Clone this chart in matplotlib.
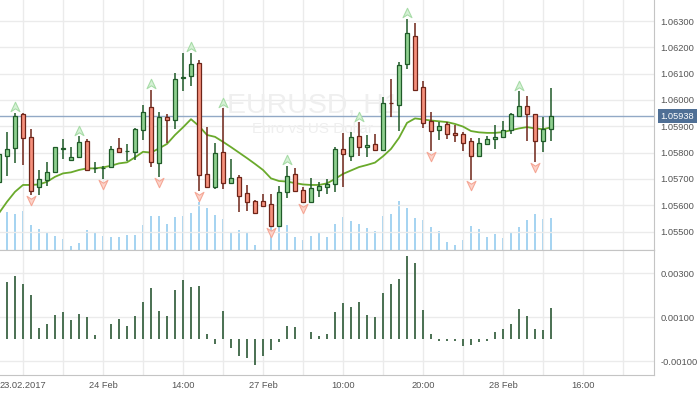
import matplotlib
matplotlib.use('Agg')
import matplotlib.pyplot as plt
from matplotlib import transforms
from matplotlib.path import Path
from matplotlib.patches import Rectangle

# EURUSD H1 candles
opens = [1.05688, 1.05788, 1.05816, 1.05946, 1.05858, 1.05668, 1.05695, 1.05725, 1.05814, 1.05771,
         1.05782, 1.05843, 1.05741, 1.05741, 1.05744, 1.05816, 1.05805, 1.05803, 1.05885, 1.05972,
         1.05759, 1.05934, 1.05923, 1.06084, 1.06091, 1.06140, 1.05718, 1.05668, 1.05801, 1.05683,
         1.05706, 1.05645, 1.05615, 1.05615, 1.05603, 1.05522, 1.05649, 1.05718, 1.05657, 1.05613,
         1.05657, 1.05670, 1.05679, 1.05813, 1.05787, 1.05863, 1.05820, 1.05832, 1.05809, 1.05989,
         1.05980, 1.06136, 1.06243, 1.06048, 1.05919, 1.05885, 1.05909, 1.05875, 1.05870, 1.05843,
         1.05788, 1.05834, 1.05851, 1.05858, 1.05885, 1.05940, 1.05977, 1.05946, 1.05843, 1.05891]
highs = [1.05810, 1.05879, 1.05952, 1.05949, 1.05889, 1.05734, 1.05764, 1.05821, 1.05851, 1.05820,
         1.05863, 1.05851, 1.05764, 1.05749, 1.05825, 1.05857, 1.05833, 1.05895, 1.05981, 1.06038,
         1.05954, 1.05946, 1.06104, 1.06180, 1.06180, 1.06152, 1.05898, 1.05835, 1.05968, 1.05776,
         1.05715, 1.05677, 1.05620, 1.05643, 1.05643, 1.05673, 1.05749, 1.05740, 1.05668, 1.05705,
         1.05689, 1.05700, 1.05822, 1.05873, 1.05878, 1.05915, 1.05868, 1.05871, 1.06011, 1.06080,
         1.06145, 1.06308, 1.06292, 1.06072, 1.05953, 1.05915, 1.05917, 1.05905, 1.05879, 1.05854,
         1.05857, 1.05863, 1.05905, 1.05920, 1.05952, 1.06034, 1.06015, 1.05946, 1.05937, 1.06045]
lows = [1.05673, 1.05712, 1.05762, 1.05753, 1.05639, 1.05639, 1.05674, 1.05722, 1.05775, 1.05770,
        1.05781, 1.05734, 1.05721, 1.05700, 1.05743, 1.05802, 1.05768, 1.05772, 1.05849, 1.05744,
        1.05708, 1.05835, 1.05891, 1.06035, 1.06054, 1.05655, 1.05667, 1.05663, 1.05660, 1.05682,
        1.05573, 1.05578, 1.05568, 1.05594, 1.05519, 1.05516, 1.05626, 1.05653, 1.05612, 1.05612,
        1.05632, 1.05641, 1.05649, 1.05670, 1.05769, 1.05787, 1.05782, 1.05808, 1.05808, 1.05934,
        1.05883, 1.06119, 1.06035, 1.05892, 1.05807, 1.05848, 1.05851, 1.05841, 1.05807, 1.05696,
        1.05782, 1.05829, 1.05815, 1.05857, 1.05870, 1.05937, 1.05845, 1.05765, 1.05803, 1.05845]
closes = [1.05795, 1.05814, 1.05939, 1.05854, 1.05654, 1.05698, 1.05725, 1.05820, 1.05817, 1.05782,
          1.05839, 1.05735, 1.05743, 1.05743, 1.05813, 1.05803, 1.05807, 1.05890, 1.05954, 1.05763,
          1.05934, 1.05923, 1.06079, 1.06086, 1.06136, 1.05714, 1.05668, 1.05797, 1.05683, 1.05702,
          1.05636, 1.05613, 1.05569, 1.05598, 1.05520, 1.05649, 1.05712, 1.05654, 1.05613, 1.05664,
          1.05674, 1.05679, 1.05813, 1.05794, 1.05858, 1.05820, 1.05828, 1.05809, 1.05987, 1.05987,
          1.06133, 1.06254, 1.06038, 1.05914, 1.05881, 1.05900, 1.05870, 1.05866, 1.05835, 1.05786,
          1.05835, 1.05851, 1.05858, 1.05885, 1.05947, 1.05977, 1.05948, 1.05843, 1.05890, 1.05938]

# moving average line
ma = [1.05570, 1.05613, 1.05651, 1.05677, 1.05677, 1.05679, 1.05689, 1.05708, 1.05721, 1.05725,
      1.05734, 1.05740, 1.05740, 1.05744, 1.05750, 1.05759, 1.05763, 1.05782, 1.05803, 1.05800,
      1.05816, 1.05833, 1.05867, 1.05896, 1.05927, 1.05901, 1.05867, 1.05860, 1.05841, 1.05821,
      1.05800, 1.05779, 1.05757, 1.05734, 1.05702, 1.05692, 1.05690, 1.05684, 1.05679, 1.05677,
      1.05677, 1.05683, 1.05700, 1.05719, 1.05732, 1.05745, 1.05753, 1.05762, 1.05786, 1.05814,
      1.05856, 1.05913, 1.05930, 1.05926, 1.05922, 1.05919, 1.05916, 1.05909, 1.05899, 1.05882,
      1.05877, 1.05875, 1.05875, 1.05878, 1.05885, 1.05892, 1.05897, 1.05892, 1.05889, 1.05896]

# tick volumes (relative)
volumes = [35, 38, 36, 39, 25, 21, 18, 14, 11, 4.5, 7, 20, 17, 14, 13, 13, 15, 15, 25, 34,
           34, 26, 33, 34, 37, 48, 42, 35, 31, 18, 20, 17, 5, 0, 23, 23, 25, 13, 10, 14,
           17, 13, 26, 33, 29, 26, 22, 19, 34, 36, 49, 42, 32, 30, 23, 19, 8, 5, 10, 24,
           21, 13, 16, 12, 18, 23, 30, 36, 31, 32]

# oscillator in the lower pane
osc = [0.00240, 0.00259, 0.00288, 0.00250, 0.00201, 0.00050, 0.00070, 0.00110, 0.00125, 0.00088,
       0.00114, 0.00101, 0.00020, 0.00003, 0.00068, 0.00091, 0.00060, 0.00106, 0.00168, 0.00232,
       0.00129, 0.00106, 0.00225, 0.00270, 0.00238, 0.00242, 0.00024, -0.00023, 0.00130, -0.00041,
       -0.00076, -0.00086, -0.00115, -0.00076, -0.00049, -0.00014, 0.00059, 0.00057, 0.00001, 0.00033,
       0.00015, 0.00023, 0.00125, 0.00165, 0.00145, 0.00168, 0.00110, 0.00103, 0.00212, 0.00251,
       0.00273, 0.00379, 0.00345, 0.00132, 0.00025, -0.00008, -0.00008, -0.00008, -0.00029, -0.00026,
       -0.00014, -0.00006, 0.00035, 0.00047, 0.00070, 0.00138, 0.00106, 0.00047, 0.00044, 0.00142]

up_fractals = [2, 10, 19, 24, 28, 36, 45, 51, 65]
down_fractals = [4, 13, 20, 25, 34, 38, 54, 59, 67]

tick_pos = [3, 13, 23, 33, 43, 53, 63, 73]
tick_labels = ['23.02.2017', '24 Feb', '14:00', '27 Feb', '10:00', '20:00', '28 Feb', '16:00']
price_ticks = [1.055, 1.056, 1.057, 1.058, 1.059, 1.060, 1.061, 1.062, 1.063]
osc_ticks = [-0.001, 0.001, 0.003]
last_price = 1.05938

plt.rcParams['font.family'] = ['Liberation Sans', 'DejaVu Sans']

W, H = 700, 394
fig = plt.figure(figsize=(7, 3.94), dpi=100)
main_rect = [0, 1 - 250 / H, 654 / W, 250 / H]
axv = fig.add_axes(main_rect)          # volumes, own scale, underneath
ax = fig.add_axes(main_rect)           # prices on top
ax2 = fig.add_axes([0, 1 - 375 / H, 654 / W, 125 / H])

grid_c = '#ebebeb'
spine_c = '#c4c4c4'
text_c = '#555555'
xlim = (0.125, 81.875)
vgrid = list(range(3, 80, 5))
x = list(range(len(closes)))

axv.set_xlim(*xlim)
axv.set_ylim(0, 250)
axv.axis('off')
axv.vlines(x, 0, volumes, color='#8cc8ee', lw=1.1, zorder=1)
ax.patch.set_visible(False)

for a in (ax, ax2):
    a.set_xlim(*xlim)
    for s in ('left', 'top'):
        a.spines[s].set_visible(False)
    a.spines['right'].set_color(spine_c)
    a.spines['bottom'].set_color(spine_c)
    a.yaxis.tick_right()
    a.tick_params(axis='y', length=0, pad=4.5, labelsize=6.7, labelcolor=text_c)
    a.tick_params(axis='x', length=0)
    for v in vgrid:
        a.axvline(v, color=grid_c, lw=1, zorder=0)

# main pane
ax.set_ylim(1.054297, 1.063802)
ax.set_yticks(price_ticks)
ax.set_yticklabels(['%.5f' % p for p in price_ticks])
ax.set_xticks([])
for p in price_ticks:
    ax.axhline(p, color=grid_c, lw=1, zorder=0)

ax.text(313 / 654, 0.552, 'EURUSD, H1', transform=ax.transAxes, ha='center', va='baseline',
        fontsize=20.5, color='#efefef', zorder=0.5)
ax.text(313 / 654, 0.468, 'Euro vs US Dollar', transform=ax.transAxes, ha='center', va='baseline',
        fontsize=11, color='#efefef', zorder=0.5)

ax.axhline(last_price, color='#92a9c6', lw=1, zorder=1.5)
ax.plot(x, ma, color='#6aaa2c', lw=1.3, zorder=2)

bull_fill, bull_edge = '#8fd08f', '#1f5a28'
bear_fill, bear_edge = '#f5907c', '#6e2418'
for i in x:
    o, h, l, c = opens[i], highs[i], lows[i], closes[i]
    up = c >= o
    fc, ec = (bull_fill, bull_edge) if up else (bear_fill, bear_edge)
    ax.vlines(i, l, h, color=ec, lw=1.1, zorder=3)
    bottom = min(o, c)
    height = max(abs(c - o), 0.00002)
    ax.bar(i, height, bottom=bottom, width=0.6, color=fc, edgecolor=ec, lw=0.9, zorder=4)

dart_up = Path([(0, 1), (0.85, -0.8), (0, -0.25), (-0.85, -0.8), (0, 1)],
               [Path.MOVETO, Path.LINETO, Path.LINETO, Path.LINETO, Path.CLOSEPOLY])
dart_dn = Path([(0, -1), (0.85, 0.8), (0, 0.25), (-0.85, 0.8), (0, -1)],
               [Path.MOVETO, Path.LINETO, Path.LINETO, Path.LINETO, Path.CLOSEPOLY])
ax.plot(up_fractals, [highs[i] + 0.00021 for i in up_fractals], ls='none', marker=dart_up,
        markersize=7.5, markerfacecolor='#d6f1d6', markeredgecolor='#a8dca8', markeredgewidth=0.8, zorder=5)
ax.plot(down_fractals, [lows[i] - 0.00021 for i in down_fractals], ls='none', marker=dart_dn,
        markersize=7.5, markerfacecolor='#fcd3c9', markeredgecolor='#f5a796', markeredgewidth=0.8, zorder=5)

# current price tag
tr = transforms.blended_transform_factory(ax.transAxes, ax.transData)
ax.add_patch(Rectangle((658 / 654, last_price - 0.000270), 39 / 654, 0.000540, transform=tr,
                       facecolor='#4f6f95', edgecolor='none', clip_on=False, zorder=6))
ax.text(677.5 / 654, last_price, '%.5f' % last_price, transform=tr, ha='center', va='center',
        color='white', fontsize=6.7, clip_on=False, zorder=7)

# lower pane
ax2.set_ylim(-0.001623, 0.004059)
ax2.set_yticks(osc_ticks)
ax2.set_yticklabels(['%.5f' % v for v in osc_ticks])
for v in osc_ticks:
    ax2.axhline(v, color=grid_c, lw=1, zorder=0)
ax2.vlines(x, 0, osc, color='#3b6544', lw=1.3, zorder=3)
ax2.spines['top'].set_visible(True)
ax2.spines['top'].set_color(spine_c)
ax2.set_xticks(tick_pos)
ax2.set_xticklabels(tick_labels)
ax2.tick_params(axis='x', pad=4.5, labelsize=6.7, labelcolor=text_c)

fig.savefig('out.png', dpi=100, facecolor='white')
